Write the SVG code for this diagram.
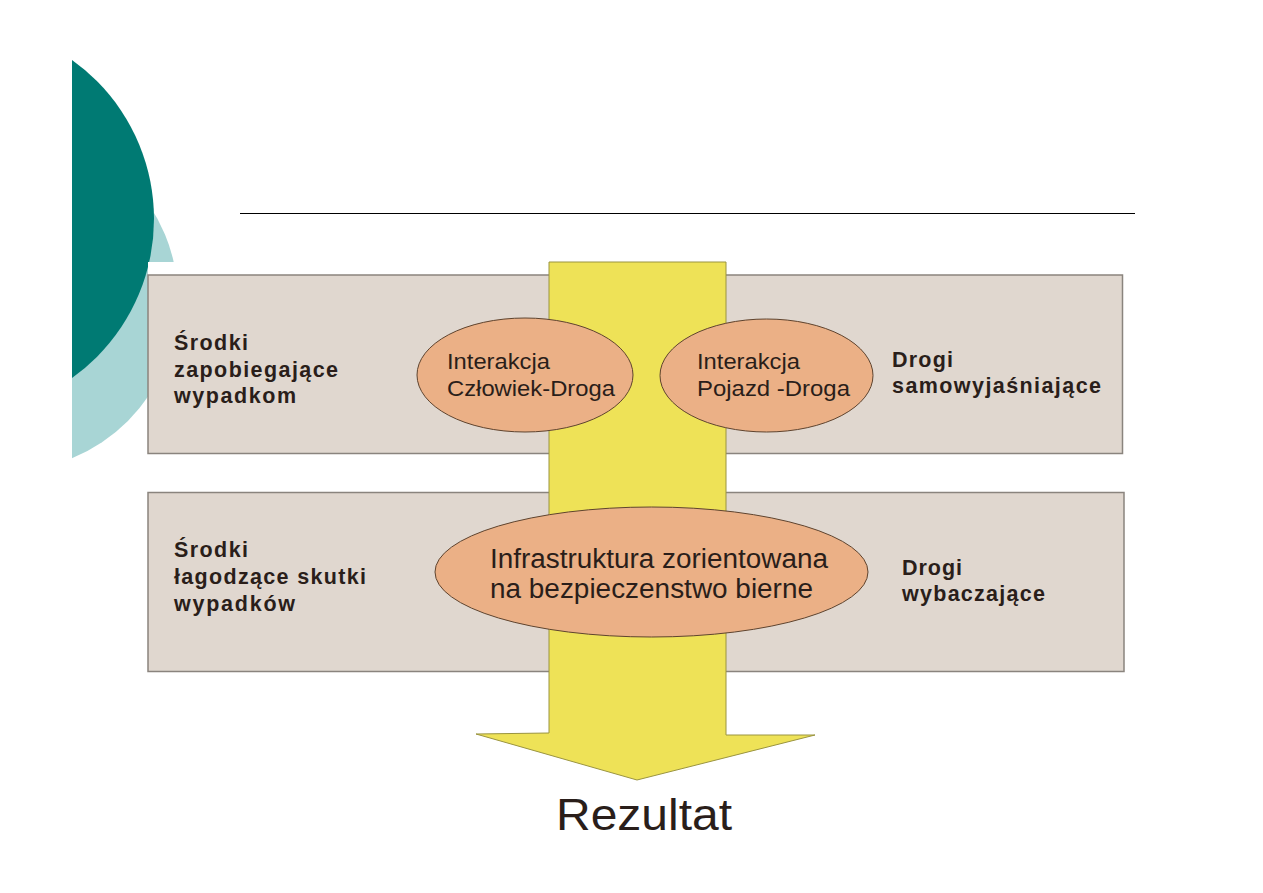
<svg xmlns="http://www.w3.org/2000/svg" width="1263" height="893" viewBox="0 0 1263 893">
<defs>
<style>
.box{fill:#E0D7CF;stroke:#8A847E;stroke-width:1.5}
.ell{fill:#EBB086;stroke:#5E432E;stroke-width:1}
.t{font-family:"Liberation Sans",Arial,sans-serif;fill:#2A1E1A}
.lbl{font-family:"Liberation Sans",Arial,sans-serif;font-weight:bold;font-size:21.5px;fill:#2A1E1A}
</style>
<clipPath id="pg"><rect x="72" y="0" width="1191" height="893"/></clipPath>
</defs>
<rect x="0" y="0" width="1263" height="893" fill="#FFFFFF"/>
<g id="decor" clip-path="url(#pg)">
<circle cx="7" cy="300" r="171" fill="#A8D5D5"/>
<circle cx="-41" cy="219" r="195" fill="#007A73"/>
</g>
<rect x="148" y="262" width="1000" height="420" fill="#FFFFFF"/>
<line x1="240" y1="213.5" x2="1135" y2="213.5" stroke="#000000" stroke-width="1"/>
<g id="box-top"><rect class="box" x="148" y="275" width="974.5" height="178.5"/></g>
<g id="box-bottom"><rect class="box" x="148" y="492.5" width="976" height="179"/></g>
<g id="connectors">
<polygon points="549,262 726,262 726,735 815,735 637,780 476,734 549,733" fill="#EEE257" stroke="#9A9440" stroke-width="1"/>
</g>
<g id="label-top-left">
<text class="lbl" x="174" y="350" textLength="74" lengthAdjust="spacing">Środki</text>
<text class="lbl" x="174" y="377" textLength="164" lengthAdjust="spacing">zapobiegające</text>
<text class="lbl" x="174" y="403" textLength="122" lengthAdjust="spacing">wypadkom</text>
</g>
<g id="label-bottom-left">
<text class="lbl" x="174" y="557" textLength="74" lengthAdjust="spacing">Środki</text>
<text class="lbl" x="174" y="584" textLength="192" lengthAdjust="spacing">łagodzące skutki</text>
<text class="lbl" x="174" y="611" textLength="121" lengthAdjust="spacing">wypadków</text>
</g>
<g id="label-top-right">
<text class="lbl" x="892" y="367" textLength="61" lengthAdjust="spacing">Drogi</text>
<text class="lbl" x="892" y="393" textLength="209" lengthAdjust="spacing">samowyjaśniające</text>
</g>
<g id="label-bottom-right">
<text class="lbl" x="902" y="575" textLength="60" lengthAdjust="spacing">Drogi</text>
<text class="lbl" x="902" y="601" textLength="143" lengthAdjust="spacing">wybaczające</text>
</g>
<g id="node-czlowiek-droga">
<ellipse class="ell" cx="525" cy="375" rx="108" ry="57"/>
<text class="t" font-size="22.5" x="447" y="369" textLength="103" lengthAdjust="spacingAndGlyphs">Interakcja</text>
<text class="t" font-size="22.5" x="447" y="396" textLength="168" lengthAdjust="spacingAndGlyphs">Człowiek-Droga</text>
</g>
<g id="node-pojazd-droga">
<ellipse class="ell" cx="766.5" cy="375.5" rx="106.5" ry="56.5"/>
<text class="t" font-size="22.5" x="697" y="369" textLength="103" lengthAdjust="spacingAndGlyphs">Interakcja</text>
<text class="t" font-size="22.5" x="697" y="396" textLength="153" lengthAdjust="spacingAndGlyphs">Pojazd -Droga</text>
</g>
<g id="node-infrastruktura">
<ellipse class="ell" cx="651.5" cy="572" rx="216.5" ry="65"/>
<text class="t" font-size="27" x="490" y="568" textLength="338" lengthAdjust="spacingAndGlyphs">Infrastruktura zorientowana</text>
<text class="t" font-size="27" x="490" y="598" textLength="323" lengthAdjust="spacingAndGlyphs">na bezpieczenstwo bierne</text>
</g>
<g id="node-rezultat">
<text class="t" font-size="45" x="556" y="830" textLength="176" lengthAdjust="spacingAndGlyphs">Rezultat</text>
</g>
</svg>
